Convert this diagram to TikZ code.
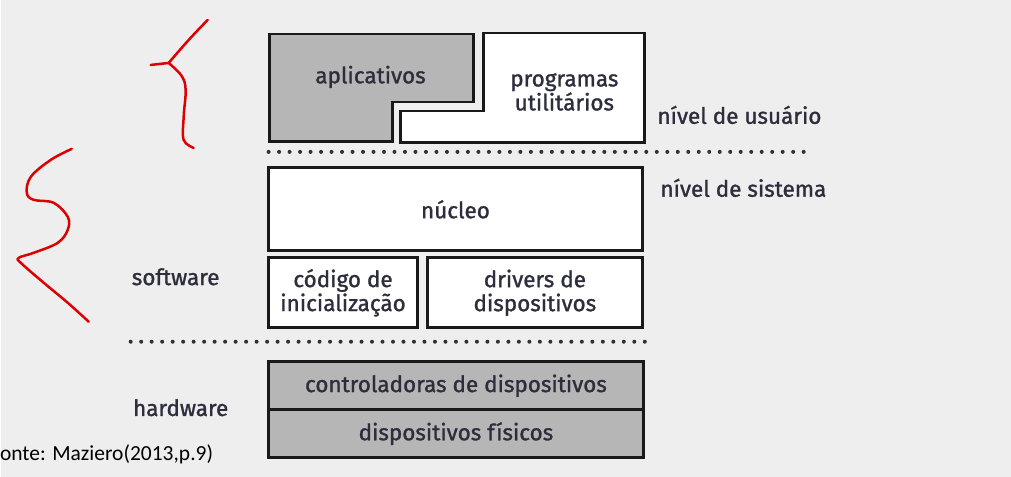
\documentclass[tikz,border=0pt]{standalone}
\usepackage{fontspec}
\setmainfont{Carlito}
\newfontfamily\figfont[Ligatures=NoCommon,FakeBold=1.2]{Fira Sans}
\usetikzlibrary{positioning}
\definecolor{fundo}{RGB}{238,238,238}
\definecolor{cinza}{RGB}{182,182,182}
\definecolor{borda}{RGB}{25,25,25}
\definecolor{texto}{RGB}{45,45,60}
\definecolor{risco}{RGB}{220,0,0}

\begin{document}
\begin{tikzpicture}[x=1pt,y=-1pt,
  block/.style={draw=borda,line width=2.8pt,rectangle,outer sep=0pt,inner sep=0pt,
    font=\figfont\fontsize{22.5}{24}\selectfont,text=texto,align=center,node distance=0pt},
  rotulo/.style={font=\figfont\fontsize{22.5}{24}\selectfont,text=texto,inner sep=0pt,align=center},
  pontos/.style={draw=borda!90,line width=4pt,dash pattern=on 0pt off 10.5pt,line cap=round},
  mao/.style={draw=risco,line width=2.5pt,line cap=round,line join=round}]

        \fill[fundo] (0,0) rectangle (1011,477);

        % nivel de usuario
        \filldraw[fill=cinza,draw=borda,line width=2.8pt]
          (269,34) -- (473,34) -- (473,102) -- (392,102) -- (392,142) -- (269,142) -- cycle;
        \node[rotulo] (A) at (370,77) {aplicativos};
        \filldraw[fill=white,draw=borda,line width=2.8pt]
          (483,33) -- (644,33) -- (644,143) -- (400,143) -- (400,111) -- (483,111) -- cycle;
        \node[rotulo] (P) at (564,92) {programas\\utilitários};

        \draw[pontos] (268,152) -- (805,152);

        % nivel de sistema
        \node[block,fill=white,minimum width=374pt,minimum height=83pt] (N) at (455,209.5) {núcleo};
        \node[block,fill=white,minimum width=149pt,minimum height=70pt] (C) at (342.5,293) {código de\\inicialização};
        \node[block,fill=white,minimum width=215pt,minimum height=70pt] (D) [right = 10pt of C] {drivers de\\dispositivos};

        \draw[pontos] (130,342) -- (647,342);

        % hardware
        \node[block,fill=cinza,minimum width=375pt,minimum height=48pt] (H) at (455.5,386) {controladoras de dispositivos};
        \node[block,fill=cinza,minimum width=375pt,minimum height=48pt] (F) [below = of H] {dispositivos físicos};

        \node[rotulo,anchor=west] (U) at (657,115) {nível de usuário};
        \node[rotulo,anchor=west] (S) at (660,188) {nível de sistema};
        \node[rotulo] (SW) at (175,277) {software};
        \node[rotulo] (HW) at (180,408) {hardware};
        \node[anchor=west,inner sep=0pt,text=black,font=\fontsize{21.5}{23}\selectfont] (M) at (-1,455) {onte: Maziero(2013,p.9)};

        % riscos a mao
        \draw[mao] plot[smooth,tension=0.6] coordinates {(207,20) (188,40) (168,63)};
        \draw[mao] (150,65) -- (168,63);
        \draw[mao] plot[smooth,tension=0.6] coordinates {(168,63) (181,76) (185,90) (183,117) (183,140) (193,148)};
        \draw[mao] plot[smooth,tension=0.6] coordinates {(71,149) (50,160) (30,177) (26,193) (33,200) (53,203)
          (67,217) (67,230) (57,243) (33,253) (18,258) (20,263) (43,283) (67,303) (88,322)};
      \end{tikzpicture}
\end{document}
